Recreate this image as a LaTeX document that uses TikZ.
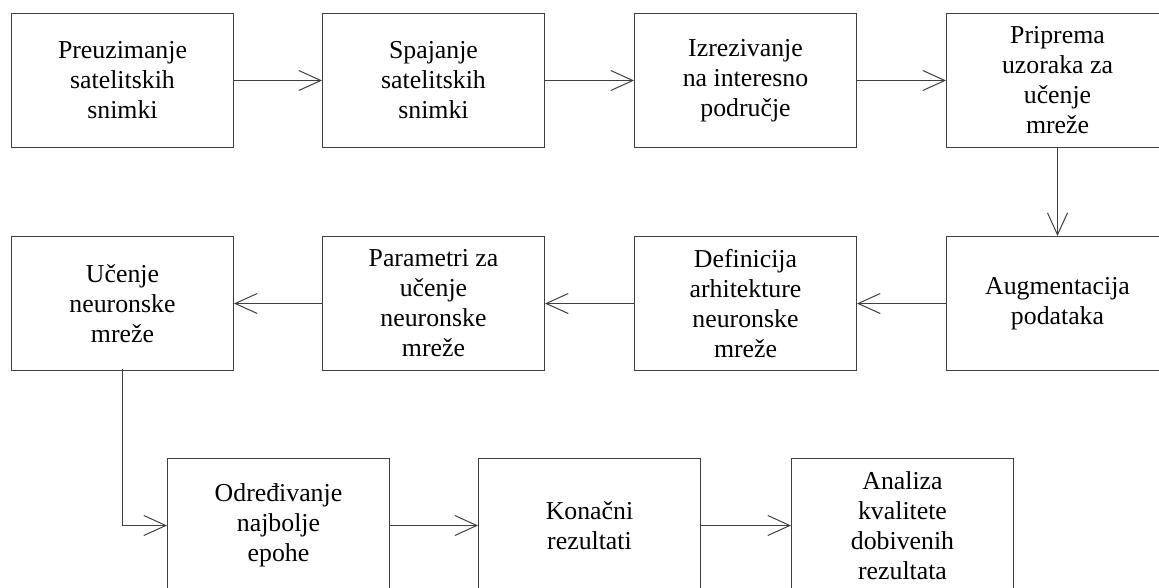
\documentclass[tikz,border=0pt]{standalone}
\usepackage{fontspec}
\setmainfont{Liberation Serif}
\usetikzlibrary{arrows.meta}
\tikzset{
  stepbox/.style={draw=black!75, line width=1pt, fill=white, minimum width=222pt, minimum height=134pt, inner sep=0pt, align=center, font=\fontsize{25.8}{30}\selectfont, anchor=north west},
  conn/.style={draw=black!75, line width=1pt, -{Straight Barb[length=22pt,width=20pt,line width=1pt]}}
}
\begin{document}
\begin{tikzpicture}[x=1pt,y=-1pt]
\useasboundingbox (0,0) rectangle (1159,587);
\clip (0,0) rectangle (1159,587);
\fill[white] (0,0) rectangle (1159,587);
% row 1
\node[stepbox] (a1) at (11,13) {Preuzimanje\\satelitskih\\snimki};
\node[stepbox] (a2) at (322,13) {Spajanje\\satelitskih\\snimki};
\node[stepbox] (a3) at (634,13) {Izrezivanje\\na interesno\\područje};
\node[stepbox] (a4) at (946,13) {Priprema\\uzoraka za\\učenje\\mreže};
% row 2
\node[stepbox] (b4) at (946,236) {Augmentacija\\podataka};
\node[stepbox] (b3) at (634,236) {Definicija\\arhitekture\\neuronske\\mreže};
\node[stepbox] (b2) at (322,236) {Parametri za\\učenje\\neuronske\\mreže};
\node[stepbox] (b1) at (11,236) {Učenje\\neuronske\\mreže};
% row 3
\node[stepbox] (c1) at (167,458) {Određivanje\\najbolje\\epohe};
\node[stepbox] (c2) at (478,458) {Konačni\\rezultati};
\node[stepbox] (c3) at (791,458) {Analiza\\kvalitete\\dobivenih\\rezultata};
% connectors
\draw[conn] (a1.east) -- (a2.west);
\draw[conn] (a2.east) -- (a3.west);
\draw[conn] (a3.east) -- (a4.west);
\draw[conn] (a4.south) -- (b4.north);
\draw[conn] (b4.west) -- (b3.east);
\draw[conn] (b3.west) -- (b2.east);
\draw[conn] (b2.west) -- (b1.east);
\coordinate (k) at (122,369);
\draw[conn] (k) |- (c1.west);
\draw[conn] (c1.east) -- (c2.west);
\draw[conn] (c2.east) -- (c3.west);
\end{tikzpicture}
\end{document}
